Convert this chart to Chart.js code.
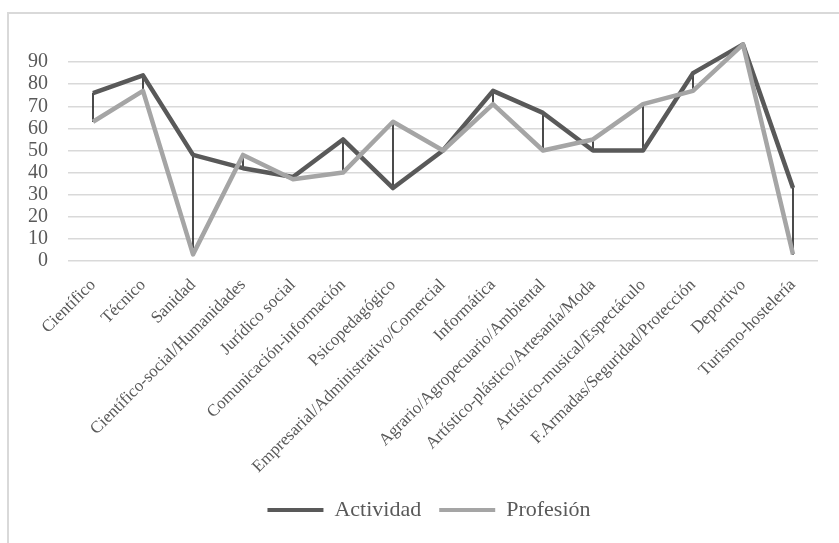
<!DOCTYPE html>
<html>
<head>
<meta charset="utf-8">
<style>
  html, body { margin: 0; padding: 0; background: #fff; }
  #wrap { position: relative; width: 839px; height: 543px; }
  #frame { position: absolute; left: 7px; top: 12px; right: 0; bottom: 0;
    border-top: 2px solid #d9d9d9; border-left: 2px solid #d9d9d9; pointer-events: none; }
  canvas { position: absolute; left: 0; top: 0; }
</style>
<script src="https://cdn.jsdelivr.net/npm/chart.js@4/dist/chart.umd.min.js"></script>
</head>
<body>
<div id="wrap">
  <canvas id="myChart" width="839" height="543"></canvas>
  <div id="frame"></div>
</div>
<script>
const categories = [
  'Científico', 'Técnico', 'Sanidad', 'Científico-social/Humanidades', 'Jurídico social',
  'Comunicación-información', 'Psicopedagógico', 'Empresarial/Administrativo/Comercial',
  'Informática', 'Agrario/Agropecuario/Ambiental', 'Artístico-plástico/Artesanía/Moda',
  'Artístico-musical/Espectáculo', 'F.Armadas/Seguridad/Protección', 'Deportivo', 'Turismo-hostelería'
]
const actividad = [76, 84, 48, 42, 38, 55, 33, 50, 77, 67, 50, 50, 85, 98, 33]
const profesion = [63, 77, 3, 48, 37, 40, 63, 50, 71, 50, 55, 71, 77, 98, 3]
const yTicks = [0, 10, 20, 30, 40, 50, 60, 70, 80, 90]

// high-low lines between the two series
const highLow = categories.map((c, i) => [
  Math.min(actividad[i], profesion[i]),
  Math.max(actividad[i], profesion[i]),
])

const serif = "'Liberation Serif', 'Times New Roman', serif"
const ctx = document.getElementById('myChart')

// nudge the legend a bit to the right, like the original
const legendShift = {
  id: 'legendShift',
  afterLayout: function (chart) {
    chart.legend.left += 20
    chart.legend.right += 20
  },
}

new Chart(ctx, {
  type: 'line',
  data: {
    labels: categories,
    datasets: [
      {
        label: 'Actividad',
        data: actividad,
        borderColor: '#595959',
        backgroundColor: '#595959',
        borderWidth: 4.5,
        pointRadius: 0,
        borderJoinStyle: 'round',
        order: 2,
      },
      {
        label: 'Profesión',
        data: profesion,
        borderColor: '#a5a5a5',
        backgroundColor: '#a5a5a5',
        borderWidth: 4.5,
        pointRadius: 0,
        borderJoinStyle: 'round',
        order: 1,
      },
      {
        type: 'bar',
        label: 'hl',
        data: highLow,
        backgroundColor: '#262626',
        barThickness: 1,
        order: 3,
      },
    ],
  },
  plugins: [legendShift],
  options: {
    responsive: false,
    animation: false,
    layout: { padding: { top: 40, left: 0, right: 21, bottom: 12 } },
    plugins: {
      tooltip: { enabled: false },
      legend: {
        position: 'bottom',
        labels: {
          font: { family: serif, size: 22 },
          color: '#595959',
          boxWidth: 56,
          boxHeight: 4,
          padding: 18,
          sort: (a, b) => a.datasetIndex - b.datasetIndex,
          generateLabels: function (chart) {
            return Chart.defaults.plugins.legend.labels.generateLabels(chart)
              .filter((l) => l.datasetIndex !== 2)
              .map((l) => ({ ...l, lineWidth: 0, fillStyle: l.strokeStyle }))
          },
        },
      },
    },
    scales: {
      x: {
        offset: true,
        grid: { display: false },
        border: { display: false },
        ticks: {
          font: { family: serif, size: 17 },
          color: '#595959',
          minRotation: 45,
          maxRotation: 45,
          autoSkip: false,
          padding: 6,
        },
        afterFit: function (scale) {
          scale.height = 220
        },
      },
      y: {
        min: 0,
        max: 100,
        grid: { color: '#d9d9d9', lineWidth: 1.5, drawTicks: false },
        border: { display: false },
        ticks: {
          stepSize: 10,
          autoSkip: false,
          padding: 20,
          font: { family: serif, size: 20 },
          color: '#595959',
        },
        afterBuildTicks: function (scale) {
          scale.ticks = yTicks.map((v) => ({ value: v }))
        },
        afterFit: function (scale) {
          scale.width = 68
        },
      },
    },
  },
})
</script>
</body>
</html>
